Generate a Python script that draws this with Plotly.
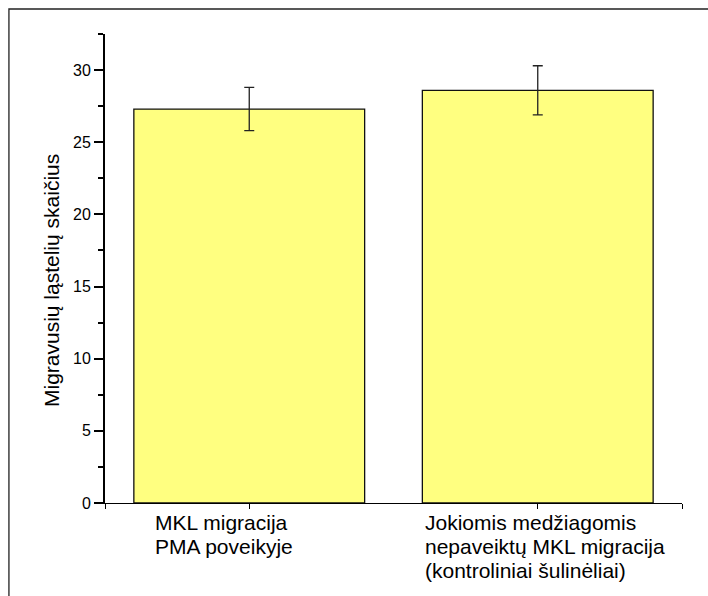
import plotly.graph_objects as go

# ---- data ----
positions = [1, 2]
means = [27.3, 28.6]
errors = [1.5, 1.7]
label_lines = [
    ["MKL migracija", "PMA poveikyje"],
    ["Jokiomis medžiagomis", "nepaveiktų MKL migracija", "(kontroliniai šulinėliai)"],
]
y_title = "Migravusių ląstelių skaičius"
y_ticks = [0, 5, 10, 15, 20, 25, 30]

FONT = "Arial, Liberation Sans, sans-serif"

fig = go.Figure()
fig.add_trace(go.Bar(
    x=positions, y=means, width=0.8,
    marker=dict(color="#FFFF80", line=dict(color="#111111", width=1.3)),
    error_y=dict(type="data", array=errors, visible=True,
                 color="#222222", thickness=1.3, width=5),
    showlegend=False,
))

# category labels, left-aligned lines
xshifts = [-96, -115]
for pos, lines, xs in zip(positions, label_lines, xshifts):
    for i, line in enumerate(lines):
        fig.add_annotation(
            text=line, xref="x", yref="paper", x=pos, y=0,
            xanchor="left", yanchor="top", xshift=xs, yshift=-6 - 24 * i,
            showarrow=False, font=dict(family=FONT, size=21, color="#000000"),
        )

# y axis title
fig.add_annotation(
    text=y_title, xref="paper", yref="paper", x=0, y=0.4733,
    xanchor="center", yanchor="middle", xshift=-54, textangle=-90,
    showarrow=False, font=dict(family=FONT, size=21, color="#000000"),
)

# outer frame (top and left edges)
fig.add_shape(type="path", xref="paper", yref="paper",
              path="M -0.1665,-0.3 L -0.1665,1.0533 L 1.2,1.0533",
              line=dict(color="#222222", width=1.3))

fig.update_xaxes(
    range=[0.5, 2.5], tickvals=[0.5, 1, 2, 2.5], ticktext=["", "", "", ""],
    ticks="outside", ticklen=5, tickwidth=1.3, tickcolor="#000000",
    showline=True, linecolor="#000000", linewidth=1.3,
    showgrid=False, zeroline=False,
)
fig.update_yaxes(
    range=[0, 32.5], tickvals=y_ticks,
    ticks="outside", ticklen=9, tickwidth=2, tickcolor="#000000",
    minor=dict(dtick=2.5, tick0=0, ticks="outside", ticklen=5, tickwidth=2,
               tickcolor="#000000", showgrid=False),
    showline=True, linecolor="#000000", linewidth=2,
    showgrid=False, zeroline=False,
    tickfont=dict(family=FONT, size=16, color="#000000"),
)
fig.update_layout(
    width=708, height=596,
    margin=dict(l=105, r=26.3, t=34, b=93),
    paper_bgcolor="#FFFFFF", plot_bgcolor="#FFFFFF",
    font=dict(family=FONT),
)
fig.write_html("out.html")
